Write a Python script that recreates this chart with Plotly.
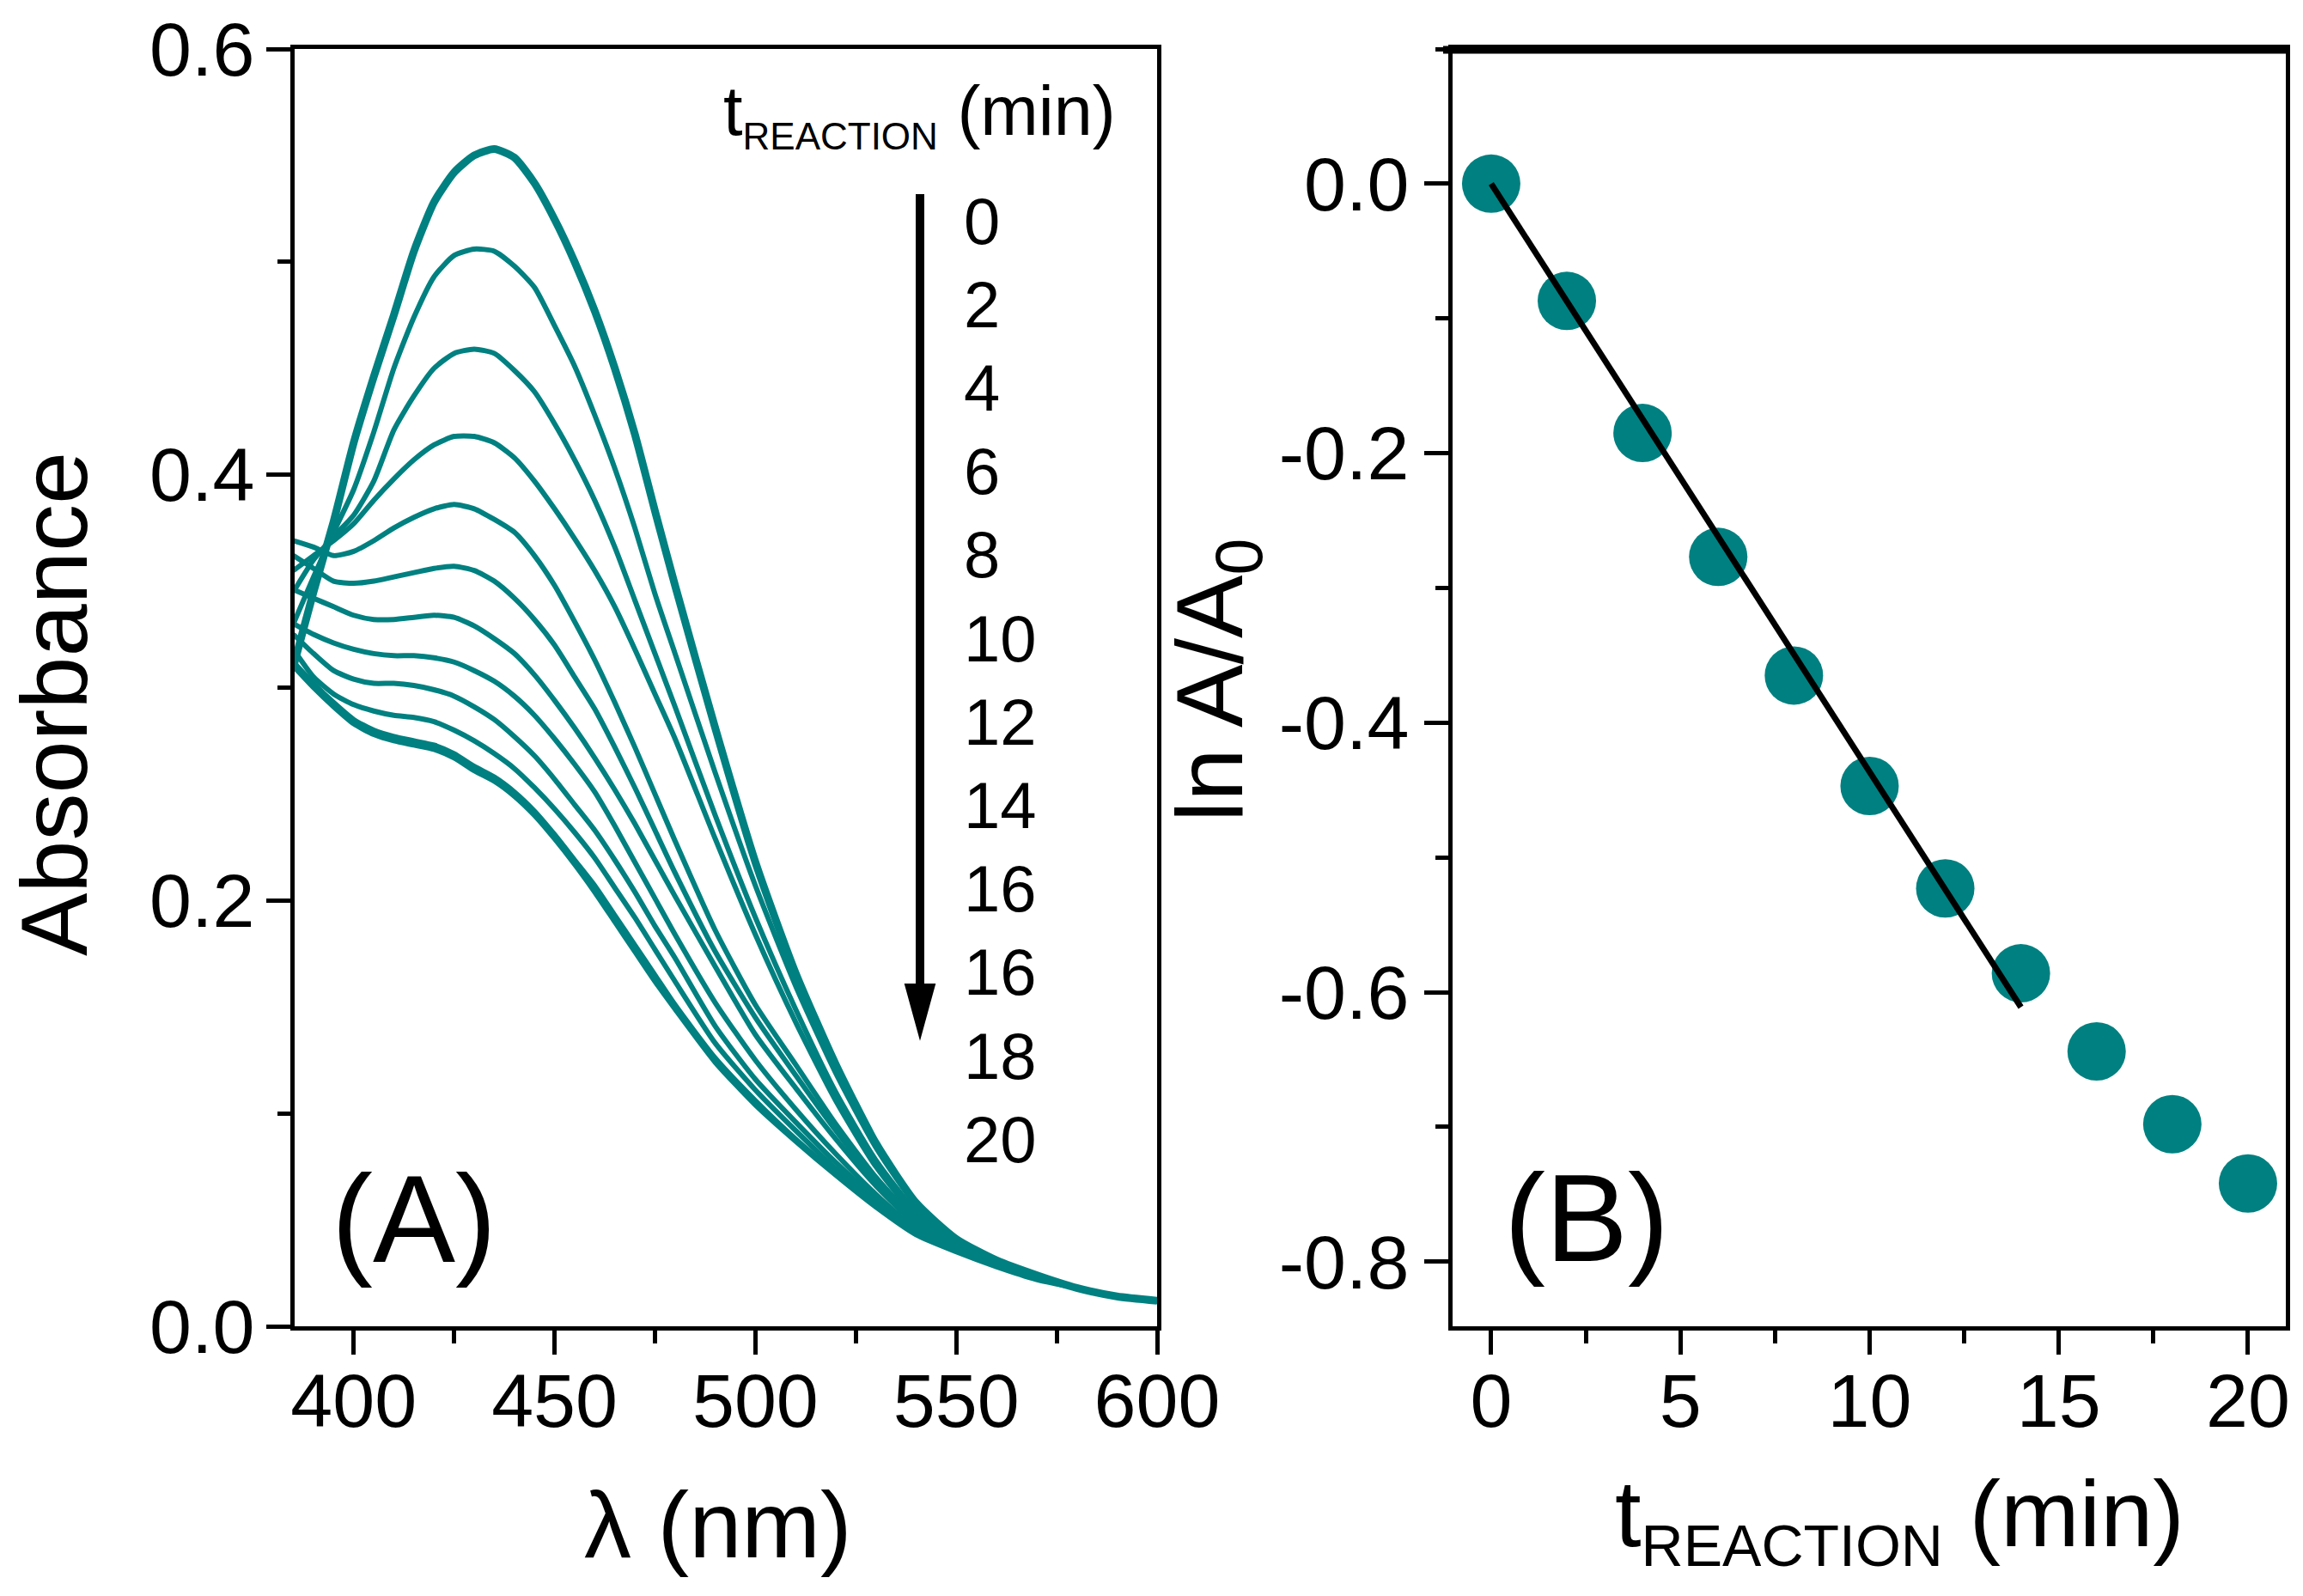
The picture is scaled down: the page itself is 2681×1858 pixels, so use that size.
import numpy as np
import plotly.graph_objects as go

W, H = 2681, 1858
TEAL = "#008080"
FONT = "Liberation Sans, Arial, sans-serif"

# ---- panel A: UV-vis spectra during the reaction ----
wavelength = [385, 390, 395, 400, 405, 410, 415, 420, 425, 430, 435, 440, 445, 450, 455, 460,
              465, 470, 475, 480, 490, 500, 510, 520, 530, 540, 550, 560, 570, 580, 590, 600]
legend_labels = ["0", "2", "4", "6", "8", "10", "12", "14", "16", "16", "18", "20"]

abs_t0 = [0.310, 0.345, 0.378, 0.415, 0.446, 0.475, 0.505, 0.528, 0.542, 0.550, 0.553, 0.549, 0.537, 0.520, 0.500, 0.477,
          0.450, 0.419, 0.383, 0.348, 0.281, 0.218, 0.166, 0.123, 0.086, 0.058, 0.041, 0.031, 0.024, 0.018, 0.014, 0.012]
abs_t2 = [0.330, 0.352, 0.373, 0.393, 0.420, 0.450, 0.474, 0.493, 0.503, 0.506, 0.505, 0.498, 0.488, 0.470, 0.451, 0.428,
          0.403, 0.375, 0.344, 0.316, 0.260, 0.207, 0.160, 0.119, 0.084, 0.057, 0.041, 0.031, 0.024, 0.018, 0.014, 0.012]
abs_t4 = [0.345, 0.360, 0.371, 0.381, 0.397, 0.421, 0.437, 0.450, 0.457, 0.459, 0.457, 0.449, 0.439, 0.424, 0.407, 0.388,
          0.366, 0.341, 0.316, 0.291, 0.240, 0.192, 0.149, 0.110, 0.078, 0.054, 0.040, 0.030, 0.023, 0.018, 0.014, 0.012]
abs_t6 = [0.355, 0.362, 0.369, 0.377, 0.388, 0.398, 0.407, 0.414, 0.418, 0.418, 0.415, 0.408, 0.397, 0.384, 0.370, 0.355,
          0.338, 0.318, 0.297, 0.276, 0.229, 0.184, 0.143, 0.106, 0.075, 0.052, 0.039, 0.030, 0.023, 0.018, 0.014, 0.012]
abs_t8 = [0.369, 0.366, 0.362, 0.364, 0.369, 0.375, 0.380, 0.384, 0.386, 0.384, 0.379, 0.373, 0.362, 0.348, 0.331, 0.313,
          0.293, 0.272, 0.250, 0.228, 0.186, 0.151, 0.123, 0.095, 0.070, 0.050, 0.039, 0.030, 0.023, 0.018, 0.014, 0.012]
abs_t10 = [0.362, 0.356, 0.350, 0.349, 0.350, 0.352, 0.354, 0.356, 0.357, 0.355, 0.350, 0.342, 0.332, 0.320, 0.305, 0.290,
           0.272, 0.253, 0.233, 0.213, 0.176, 0.145, 0.118, 0.092, 0.068, 0.049, 0.038, 0.030, 0.023, 0.018, 0.014, 0.012]
abs_t12 = [0.346, 0.342, 0.338, 0.334, 0.332, 0.332, 0.333, 0.334, 0.333, 0.329, 0.323, 0.316, 0.306, 0.294, 0.281, 0.267,
           0.252, 0.236, 0.219, 0.202, 0.169, 0.137, 0.112, 0.088, 0.066, 0.048, 0.038, 0.030, 0.023, 0.018, 0.014, 0.012]
abs_t14 = [0.330, 0.325, 0.321, 0.318, 0.316, 0.315, 0.315, 0.314, 0.312, 0.308, 0.303, 0.296, 0.287, 0.276, 0.264, 0.251,
           0.235, 0.218, 0.201, 0.184, 0.152, 0.125, 0.102, 0.081, 0.062, 0.046, 0.037, 0.029, 0.023, 0.018, 0.014, 0.012]
abs_t16 = [0.325, 0.316, 0.308, 0.304, 0.302, 0.302, 0.301, 0.299, 0.296, 0.291, 0.285, 0.277, 0.268, 0.257, 0.245, 0.233,
           0.219, 0.204, 0.188, 0.173, 0.141, 0.116, 0.096, 0.077, 0.060, 0.045, 0.036, 0.029, 0.023, 0.018, 0.014, 0.012]
abs_t16b = [0.318, 0.305, 0.297, 0.292, 0.289, 0.287, 0.286, 0.284, 0.280, 0.275, 0.269, 0.262, 0.253, 0.243, 0.232, 0.220,
            0.206, 0.192, 0.177, 0.162, 0.133, 0.111, 0.092, 0.074, 0.058, 0.044, 0.036, 0.029, 0.023, 0.018, 0.014, 0.012]
abs_t18 = [0.312, 0.302, 0.293, 0.285, 0.280, 0.277, 0.275, 0.273, 0.269, 0.263, 0.258, 0.251, 0.242, 0.231, 0.219, 0.207,
           0.193, 0.179, 0.165, 0.151, 0.126, 0.106, 0.088, 0.072, 0.057, 0.044, 0.036, 0.029, 0.023, 0.018, 0.014, 0.012]
abs_t20 = [0.310, 0.300, 0.291, 0.283, 0.278, 0.275, 0.273, 0.271, 0.267, 0.261, 0.256, 0.249, 0.240, 0.229, 0.217, 0.204,
           0.190, 0.176, 0.162, 0.149, 0.124, 0.104, 0.087, 0.071, 0.056, 0.043, 0.035, 0.028, 0.022, 0.018, 0.014, 0.012]

spectra = [abs_t0, abs_t2, abs_t4, abs_t6, abs_t8, abs_t10, abs_t12, abs_t14,
           abs_t16, abs_t16b, abs_t18, abs_t20]

# ---- panel B: first-order kinetics ----
t_reaction = [0, 2, 4, 6, 8, 10, 12, 14, 16, 18, 20]
ln_ratio = [0.0, -0.087, -0.185, -0.277, -0.365, -0.447, -0.523, -0.586, -0.644, -0.698, -0.742]
fit_points = 8  # linear fit over the first 8 points (0-14 min)
y2_ticks = [0.0, -0.2, -0.4, -0.6, -0.8]
y2_ticktext = ["0.0", "-0.2", "-0.4", "-0.6", "-0.8"]

# fit through origin
tf = np.array(t_reaction[:fit_points], dtype=float)
yf = np.array(ln_ratio[:fit_points])
slope = (tf * yf).sum() / (tf ** 2).sum()
fit_x = [tf[0], tf[-1]]
fit_y = [slope * v for v in fit_x]


def px(x):
    return x / W


def py(y):
    return 1 - y / H


fig = go.Figure()

for i, a in enumerate(spectra):
    fig.add_trace(go.Scatter(x=wavelength, y=a, mode="lines",
                             line=dict(color=TEAL, width=9 if i == 0 else 6, shape="spline", smoothing=0.6),
                             xaxis="x", yaxis="y", showlegend=False))

fig.add_trace(go.Scatter(x=t_reaction, y=ln_ratio, mode="markers",
                         marker=dict(color=TEAL, size=68, line=dict(width=0)),
                         xaxis="x2", yaxis="y2", showlegend=False))
fig.add_trace(go.Scatter(x=fit_x, y=fit_y, mode="lines", line=dict(color="black", width=7),
                         xaxis="x2", yaxis="y2", showlegend=False))

axis_common = dict(showgrid=False, zeroline=False, showline=True, linecolor="black", linewidth=5,
                   mirror=True, ticks="outside", ticklen=28, tickwidth=5, tickcolor="black",
                   automargin=False,
                   tickfont=dict(family=FONT, size=88, color="black"))
minor_common = dict(tick0=0, ticks="outside", ticklen=15, tickwidth=5, tickcolor="black")

fig.update_layout(
    width=W, height=H, margin=dict(l=0, r=0, t=0, b=0, pad=0, autoexpand=False),
    plot_bgcolor="white", paper_bgcolor="white",
    xaxis=dict(domain=[px(343), px(1347)], range=[385.3, 600], anchor="y",
               tickvals=[400, 450, 500, 550, 600], ticklabelstandoff=-22,
               minor=dict(dtick=25, **minor_common), **axis_common),
    yaxis=dict(domain=[py(1544), py(57)], range=[0, 0.6], anchor="x",
               dtick=0.2, tickformat=".1f", ticklabelstandoff=-4,
               minor=dict(dtick=0.1, **minor_common), **axis_common),
    xaxis2=dict(domain=[px(1691), px(2661)], range=[-1.02, 21.0], anchor="y2",
                tickvals=[0, 5, 10, 15, 20], ticklabelstandoff=-22,
                minor=dict(dtick=2.5, **minor_common), **axis_common),
    yaxis2=dict(domain=[py(1544), py(57)], range=[-0.848, 0.1], anchor="x2",
                tickvals=y2_ticks, ticktext=y2_ticktext,
                minor=dict(dtick=0.1, **minor_common), **axis_common),
)

ann = []
title_font = dict(family=FONT, size=110, color="black")
ann.append(dict(text="Absorbance", x=px(62), y=py(820), textangle=-90, font=title_font))
ann.append(dict(text="λ (nm)", x=px(836), y=py(1774), font=title_font))
ann.append(dict(text="ln A/A<sub>0</sub>", x=px(1416), y=py(792), textangle=-90, font=title_font))
ann.append(dict(text="t<sub><span style='font-size:68px'>REACTION</span></sub> (min)",
                x=px(2211), y=py(1768), font=title_font))
ann.append(dict(text="(A)", x=px(482), y=py(1419), font=dict(family=FONT, size=144, color="black")))
ann.append(dict(text="(B)", x=px(1847), y=py(1418), font=dict(family=FONT, size=144, color="black")))
ann.append(dict(text="t<sub><span style='font-size:44px'>REACTION</span></sub> (min)",
                x=px(840), y=py(134), xanchor="left",
                font=dict(family=FONT, size=81, color="black")))
for i, lab in enumerate(legend_labels):
    ann.append(dict(text=lab, x=px(1120), y=py(257 + i * 97.2), xanchor="left",
                    font=dict(family=FONT, size=76, color="black")))
for a in ann:
    a.update(xref="paper", yref="paper", showarrow=False)
    a.setdefault("xanchor", "center")
    a.setdefault("yanchor", "middle")
fig.update_layout(annotations=ann)

# arrow in panel A and the heavier top frame of panel B
fig.add_shape(type="line", xref="paper", yref="paper", x0=px(1071), x1=px(1071), y0=py(226), y1=py(1150),
              line=dict(color="black", width=10))
fig.add_shape(type="path", xref="paper", yref="paper",
              path=f"M {px(1054)},{py(1146)} L {px(1088)},{py(1146)} L {px(1071)},{py(1208)} Z",
              fillcolor="black", line=dict(color="black", width=2))
fig.add_shape(type="line", xref="paper", yref="paper", x0=px(1680), x1=px(2663), y0=py(58), y1=py(58),
              line=dict(color="black", width=9))

fig.write_html("out.html", config={"displayModeBar": False},
               post_script="document.body.style.margin='0';")
